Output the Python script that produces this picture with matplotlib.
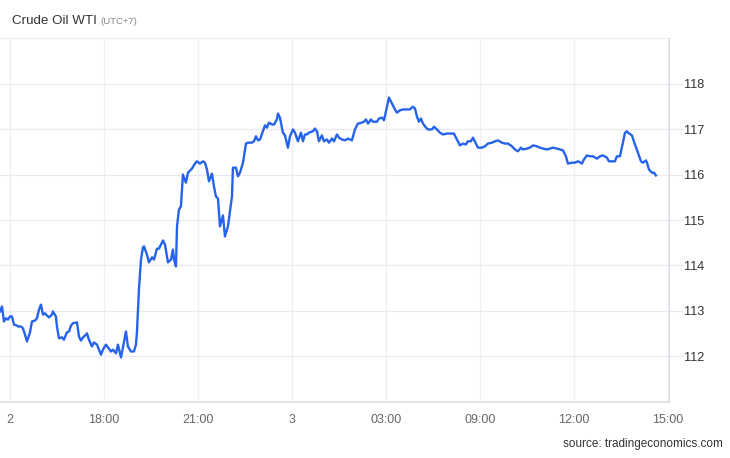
import matplotlib
matplotlib.use("Agg")
import matplotlib.pyplot as plt

plt.rcParams['font.family'] = ['Liberation Sans', 'DejaVu Sans']

# positions along the (compressed) session axis, in tick units
t = [-0.106, -0.085, -0.064, -0.043, -0.021, 0.000, 0.021, 0.043, 0.074, 0.085,
     0.117, 0.138, 0.160, 0.181, 0.213, 0.234, 0.266, 0.287, 0.309, 0.330,
     0.351, 0.372, 0.394, 0.415, 0.447, 0.457, 0.489, 0.500, 0.521, 0.553,
     0.574, 0.606, 0.628, 0.649, 0.670, 0.713, 0.734, 0.755, 0.777, 0.809,
     0.819, 0.840, 0.872, 0.894, 0.926, 0.947, 0.968, 0.989, 1.021, 1.043,
     1.074, 1.096, 1.128, 1.149, 1.181, 1.202, 1.234, 1.255, 1.287, 1.319,
     1.340, 1.351, 1.372,
     1.394, 1.415, 1.426, 1.457, 1.479, 1.511, 1.532, 1.564, 1.585, 1.628,
     1.649, 1.681, 1.713, 1.734, 1.745, 1.766, 1.777, 1.798, 1.819, 1.840,
     1.872, 1.894, 1.936, 1.968, 1.989, 2.021, 2.053, 2.074, 2.096, 2.117,
     2.149, 2.170, 2.191, 2.213, 2.234, 2.266, 2.287, 2.319, 2.362, 2.372,
     2.404, 2.426, 2.447,
     2.479, 2.511, 2.532, 2.574, 2.596, 2.617, 2.638, 2.660, 2.691, 2.713,
     2.734, 2.755, 2.787, 2.809, 2.840, 2.851, 2.872, 2.904, 2.926, 2.957,
     2.979, 3.011, 3.032, 3.064, 3.096, 3.117, 3.138, 3.160, 3.181, 3.223,
     3.245, 3.266, 3.287, 3.319, 3.340, 3.372, 3.394, 3.426, 3.447, 3.479,
     3.500, 3.532, 3.564, 3.596,
     3.638, 3.670, 3.702, 3.745, 3.766, 3.787, 3.809, 3.840, 3.862, 3.904,
     3.926, 3.957, 3.979, 4.011, 4.032, 4.064, 4.096, 4.117, 4.149, 4.181,
     4.223, 4.255, 4.287, 4.309, 4.330, 4.351, 4.372, 4.394, 4.426, 4.447,
     4.489, 4.511, 4.543, 4.574, 4.606, 4.649, 4.681,
     4.723, 4.755, 4.787, 4.819, 4.851, 4.872, 4.904, 4.926, 4.957, 4.979,
     5.021, 5.053, 5.085, 5.128, 5.160, 5.191, 5.234, 5.266, 5.298, 5.340,
     5.372, 5.404, 5.436, 5.457, 5.500, 5.532, 5.564, 5.606, 5.638, 5.670,
     5.713, 5.745, 5.777, 5.819, 5.851,
     5.883, 5.915, 5.936, 5.979, 6.011, 6.043, 6.085, 6.106, 6.138, 6.170,
     6.202, 6.245, 6.277, 6.309, 6.351, 6.372, 6.415, 6.436, 6.457, 6.489,
     6.521, 6.543, 6.564, 6.574, 6.617, 6.649, 6.681, 6.713, 6.734, 6.766,
     6.777, 6.798, 6.830, 6.851, 6.872]

price = [112.99, 113.10, 112.77, 112.84, 112.81, 112.88, 112.88, 112.70, 112.68, 112.66,
         112.66, 112.62, 112.48, 112.33, 112.53, 112.77, 112.79, 112.84, 113.03, 113.14,
         112.92, 112.95, 112.90, 112.86, 112.92, 112.99, 112.88, 112.66, 112.40, 112.42,
         112.37, 112.53, 112.55, 112.68, 112.73, 112.75, 112.44, 112.35, 112.42, 112.48,
         112.51, 112.37, 112.22, 112.31, 112.26, 112.15, 112.04, 112.15, 112.26, 112.20,
         112.11, 112.15, 112.07, 112.26, 111.98, 112.20, 112.55, 112.22, 112.11, 112.11,
         112.26, 112.53, 113.47,
         114.13, 114.40, 114.42, 114.24, 114.07, 114.18, 114.13, 114.37, 114.37, 114.55,
         114.46, 114.07, 114.13, 114.35, 114.13, 113.98, 114.86, 115.23, 115.30, 116.00,
         115.82, 116.04, 116.13, 116.24, 116.29, 116.24, 116.29, 116.26, 116.11, 115.85,
         116.02, 115.74, 115.52, 115.47, 114.86, 115.10, 114.64, 114.86, 115.52, 116.15,
         116.15, 115.96, 116.04,
         116.26, 116.68, 116.70, 116.70, 116.73, 116.84, 116.75, 116.77, 116.95, 117.08,
         117.03, 117.14, 117.10, 117.10, 117.21, 117.34, 117.25, 116.92, 116.86, 116.59,
         116.84, 116.99, 116.92, 116.73, 116.92, 116.73, 116.88, 116.88, 116.92, 116.95,
         117.01, 116.95, 116.73, 116.86, 116.73, 116.77, 116.70, 116.79, 116.73, 116.88,
         116.81, 116.77, 116.75, 116.79,
         116.75, 116.99, 117.12, 117.14, 117.16, 117.21, 117.12, 117.21, 117.16, 117.16,
         117.23, 117.25, 117.19, 117.49, 117.69, 117.56, 117.43, 117.36, 117.41, 117.43,
         117.43, 117.43, 117.49, 117.45, 117.27, 117.16, 117.23, 117.12, 117.03, 116.99,
         116.99, 117.05, 116.99, 116.92, 116.88, 116.90, 116.90,
         116.90, 116.77, 116.64, 116.68, 116.66, 116.73, 116.73, 116.81, 116.68, 116.59,
         116.59, 116.62, 116.68, 116.70, 116.73, 116.75, 116.70, 116.68, 116.68, 116.62,
         116.55, 116.51, 116.59, 116.55, 116.57, 116.59, 116.64, 116.62, 116.59, 116.57,
         116.55, 116.57, 116.59, 116.57, 116.55,
         116.53, 116.40, 116.24, 116.26, 116.26, 116.29, 116.24, 116.33, 116.42, 116.40,
         116.40, 116.35, 116.40, 116.42, 116.37, 116.29, 116.29, 116.29, 116.40, 116.40,
         116.70, 116.92, 116.95, 116.92, 116.86, 116.66, 116.48, 116.29, 116.26, 116.31,
         116.26, 116.11, 116.04, 116.04, 115.98]

tick_labels = ["2", "18:00", "21:00", "3", "03:00", "09:00", "12:00", "15:00"]
y_ticks = [112, 113, 114, 115, 116, 117, 118]

fig = plt.figure(figsize=(7.3, 4.58), dpi=100)
ax = fig.add_axes([0.0, 0.1223, 0.9164, 0.7947])

grid_c = "#ebe8f1"
ax.plot(t, price, color="#2563eb", lw=1.7, solid_joinstyle="round", zorder=3)

ax.set_xlim(-0.106, 7.011)
ax.set_ylim(111.0, 119.0)

ax.set_xticks(range(len(tick_labels)))
ax.set_xticklabels(tick_labels)
ax.set_yticks(y_ticks)
ax.yaxis.tick_right()
ax.grid(True, axis="y", color=grid_c, lw=0.9, zorder=0)
ax.grid(True, axis="x", color="#f0eef4", lw=0.9, zorder=0)
ax.axhline(119.0, color=grid_c, lw=1.2)

for s in ["left", "top"]:
    ax.spines[s].set_visible(False)
ax.spines["right"].set_color("#dcdce2")
ax.spines["bottom"].set_color("#dcdce2")
ax.spines["bottom"].set_linewidth(1.2)

ax.tick_params(axis="x", length=0, pad=9, labelsize=9, labelcolor="#666666")
ax.tick_params(axis="y", length=10, width=0.9, color=grid_c, pad=1,
               labelsize=9.2, labelcolor="#333333")

fig.text(0.016, 0.955, "Crude Oil WTI", fontsize=9.6, color="#333333", va="center")
fig.text(0.137, 0.953, "(UTC+7)", fontsize=6.8, color="#888888", va="center")
fig.text(0.99, 0.017, "source: tradingeconomics.com", fontsize=8.5,
         color="#333333", ha="right", va="bottom")

fig.savefig("out.png", dpi=100)
